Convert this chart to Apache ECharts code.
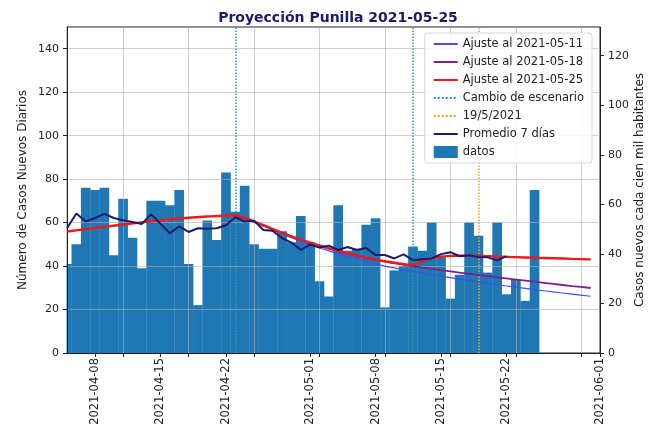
<!DOCTYPE html>
<html>
<head>
<meta charset="utf-8">
<script src="https://cdn.jsdelivr.net/npm/echarts@6/dist/echarts.min.js"></script>
<style>
  html, body { margin: 0; padding: 0; background: #fff; }
  #chart { width: 648px; height: 431px; }
</style>
</head>
<body>
<div id="chart"></div>
<script>
// rango del eje x
const fechaInicio = '2021-04-05';
const fechaFin = '2021-06-01';

// casos diarios, un valor por día desde fechaInicio
const casosDiarios = [
  41, 50, 76, 75, 76, 45, 71, 53, 39, 70,
  70, 68, 75, 41, 22, 61, 52, 83, 65, 77,
  50, 48, 48, 56, 51, 63, 51, 33, 26, 68,
  47, 48, 59, 62, 21, 38, 40, 49, 47, 60,
  44, 25, 36, 60, 54, 37, 60, 27, 34, 24,
  75
];

// promedio 7 días (centrado), un valor por día desde fechaInicio
const promedio7 = [
  57.4, 64.2, 60.5, 62.1, 64.0, 62.1, 61.1, 60.3, 59.4, 63.8,
  59.4, 55.1, 58.3, 55.7, 57.4, 57.2, 57.4, 58.8, 62.5, 60.5,
  60.9, 56.6, 56.2, 52.8, 50.8, 47.5, 49.9, 48.5, 49.4, 47.4,
  48.8, 47.4, 48.3, 45.1, 45.1, 43.5, 45.4, 42.7, 43.1, 43.5,
  45.5, 46.4, 44.5, 45.0, 44.2, 44.0, 42.6, 44.6
];

const ajusteFechas = [
  '2021-04-23', '2021-04-25', '2021-04-27', '2021-04-29', '2021-05-01',
  '2021-05-03', '2021-05-05', '2021-05-07', '2021-05-09', '2021-05-11',
  '2021-05-13', '2021-05-15', '2021-05-17', '2021-05-19', '2021-05-21',
  '2021-05-23', '2021-05-25', '2021-05-27', '2021-05-29', '2021-05-31'
];
const ajuste0511 = [
  63.4, 60.2, 56.6, 53.0, 49.8, 47.0, 44.4, 42.1, 40.0, 38.3,
  36.8, 35.4, 34.0, 32.7, 31.4, 30.3, 29.2, 28.1, 27.1, 26.1
];
const ajuste0518 = [
  63.4, 60.4, 57.0, 53.6, 50.6, 48.0, 45.7, 43.7, 42.0, 40.6,
  39.3, 38.1, 37.0, 35.9, 34.8, 33.8, 32.8, 31.8, 30.8, 29.9
];

const ajuste0525Fechas = [
  '2021-04-05', '2021-04-08', '2021-04-11', '2021-04-14', '2021-04-17',
  '2021-04-20', '2021-04-23', '2021-04-25', '2021-04-27', '2021-04-29',
  '2021-05-01', '2021-05-03', '2021-05-05', '2021-05-07', '2021-05-09',
  '2021-05-11', '2021-05-12', '2021-05-13', '2021-05-14', '2021-05-15',
  '2021-05-17', '2021-05-19', '2021-05-21', '2021-05-23', '2021-05-25',
  '2021-05-27', '2021-05-29', '2021-05-31'
];
const ajuste0525 = [
  55.9, 57.5, 59.1, 60.6, 61.9, 62.8, 63.4, 60.6, 57.0, 53.7,
  50.8, 48.2, 45.9, 43.9, 42.2, 40.9, 40.6, 42.2, 43.6, 44.3,
  44.8, 44.7, 44.4, 44.1, 43.8, 43.6, 43.3, 43.1
];

const cambiosEscenario = ['2021-04-23', '2021-05-12'];
const fechaMarca = ['2021-05-19'];

const fechasEtiquetas = [
  '2021-04-08', '2021-04-15', '2021-04-22', '2021-05-01',
  '2021-05-08', '2021-05-15', '2021-05-22', '2021-06-01'
];
const fechasGrilla = [
  '2021-04-11', '2021-04-18', '2021-04-25', '2021-05-02',
  '2021-05-09', '2021-05-16', '2021-05-23', '2021-05-30'
];
const ticksCasos = [0, 20, 40, 60, 80, 100, 120, 140];
const ticksTasa = [0, 20, 40, 60, 80, 100, 120];

const poblacion = 114000;
const casosMax = 150;

const t0 = Date.parse(fechaInicio + 'T00:00:00Z');
const dia = (s) => Math.round((Date.parse(s + 'T00:00:00Z') - t0) / 864e5);
const fecha = (d) => new Date(t0 + Math.round(d) * 864e5).toISOString().slice(0, 10);

const W = 648, H = 431;
const GRID = { left: 67, right: 48, top: 27, bottom: 78 };
const nDias = dia(fechaFin);
const anchoBarra = (W - GRID.left - GRID.right) / nDias + 0.3;

const font = 'DejaVu Sans';
const ink = '#222';
const gridColor = 'rgba(176,176,176,0.6)';

const chart = echarts.init(document.getElementById('chart'), null, { renderer: 'canvas' });

const lineaAjuste = (name, fechas, valores, color, width, z) => ({
  name,
  type: 'line',
  data: fechas.map((f, i) => [dia(f), valores[i]]),
  symbol: 'none',
  smooth: 0.25,
  lineStyle: { color, width },
  itemStyle: { color, opacity: 0 },
  z
});

const lineaVertical = (name, fechas, color) => ({
  name,
  type: 'line',
  data: [],
  symbol: 'none',
  lineStyle: { color, width: 1.5, type: 'dotted' },
  itemStyle: { color, opacity: 0 },
  z: 5,
  markLine: {
    silent: true,
    symbol: 'none',
    label: { show: false },
    lineStyle: { color, width: 1.5, type: 'dotted' },
    data: fechas.map((f) => ({ xAxis: dia(f) }))
  }
});

const ejeY = (extra) => ({
  type: 'value',
  min: 0,
  z: 4,
  nameLocation: 'middle',
  nameRotate: 90,
  nameMoveOverlap: false,
  nameTextStyle: { fontSize: 12, color: ink, fontFamily: font },
  axisLine: { show: true, onZero: false, lineStyle: { color: ink } },
  ...extra
});

const option = {
  animation: false,
  backgroundColor: '#fff',
  textStyle: { fontFamily: font },
  title: {
    text: 'Proyección Punilla 2021-05-25',
    left: 333,
    top: 6,
    textAlign: 'center',
    textStyle: { fontSize: 14, fontWeight: 'bold', color: '#1b1b6b', fontFamily: font }
  },
  legend: {
    orient: 'vertical',
    right: 56,
    top: 33,
    itemWidth: 24,
    itemHeight: 12,
    itemGap: 6,
    padding: [5, 8, 5, 8],
    backgroundColor: 'rgba(255,255,255,0.85)',
    borderColor: '#d6d6d6',
    borderWidth: 1,
    borderRadius: 3,
    z: 8,
    textStyle: { fontSize: 11.5, color: ink, fontFamily: font },
    data: [
      'Ajuste al 2021-05-11',
      'Ajuste al 2021-05-18',
      'Ajuste al 2021-05-25',
      'Cambio de escenario',
      '19/5/2021',
      'Promedio 7 días',
      { name: 'datos', icon: 'rect' }
    ]
  },
  // tapa la media barra del primer día que queda fuera del área
  graphic: [{
    type: 'rect',
    z: 3,
    silent: true,
    shape: { x: 0, y: GRID.top - 1, width: GRID.left - 0.5, height: H - GRID.top - GRID.bottom + 2 },
    style: { fill: '#fff' }
  }],
  grid: { ...GRID, show: true, borderColor: ink, borderWidth: 1, containLabel: false, outerBoundsMode: 'none' },
  xAxis: [
    {
      type: 'value',
      min: 0,
      max: nDias,
      containShape: false,
      z: 4,
      axisLine: { show: true, onZero: false, lineStyle: { color: ink } },
      splitLine: { show: false },
      axisTick: { customValues: fechasEtiquetas.map(dia), length: 4, lineStyle: { color: ink } },
      axisLabel: {
        customValues: fechasEtiquetas.map(dia),
        rotate: 90,
        margin: 5,
        fontSize: 11.5,
        color: ink,
        fontFamily: font,
        formatter: (v) => fecha(v)
      }
    },
    {
      type: 'value',
      min: 0,
      max: nDias,
      containShape: false,
      position: 'bottom',
      z: 4,
      axisLine: { show: false, onZero: false },
      axisLabel: { show: false },
      axisTick: { customValues: fechasGrilla.map(dia), length: 4, lineStyle: { color: ink } },
      splitLine: { show: true, lineStyle: { color: gridColor, width: 1 } }
    }
  ],
  yAxis: [
    ejeY({
      max: casosMax,
      position: 'left',
      name: 'Número de Casos Nuevos Diarios',
      nameGap: 38,
      axisTick: { show: true, customValues: ticksCasos, length: 4, lineStyle: { color: ink } },
      axisLabel: { customValues: ticksCasos, fontSize: 11, color: ink, fontFamily: font },
      splitLine: { show: true, lineStyle: { color: gridColor, width: 1 } }
    }),
    ejeY({
      max: casosMax * 1e5 / poblacion,
      position: 'right',
      name: 'Casos nuevos cada cien mil habitantes',
      nameGap: 34,
      axisTick: { show: true, customValues: ticksTasa, length: 4, lineStyle: { color: ink } },
      axisLabel: { customValues: ticksTasa, margin: 8, fontSize: 11, color: ink, fontFamily: font },
      splitLine: { show: false }
    })
  ],
  series: [
    {
      name: 'datos',
      type: 'bar',
      data: casosDiarios.map((v, i) => [i, v]),
      barWidth: anchoBarra,
      itemStyle: { color: '#1f77b4' },
      z: 2
    },
    lineaAjuste('Ajuste al 2021-05-11', ajusteFechas, ajuste0511, '#4050ee', 1.2, 5),
    lineaAjuste('Ajuste al 2021-05-18', ajusteFechas, ajuste0518, '#7d1f90', 1.8, 5),
    lineaAjuste('Ajuste al 2021-05-25', ajuste0525Fechas, ajuste0525, '#f01818', 2.4, 6),
    lineaVertical('Cambio de escenario', cambiosEscenario, '#2a9ea8'),
    lineaVertical('19/5/2021', fechaMarca, '#f5a02a'),
    {
      name: 'Promedio 7 días',
      type: 'line',
      data: promedio7.map((v, i) => [i, v]),
      symbol: 'none',
      lineStyle: { color: '#1c1a6b', width: 2 },
      itemStyle: { color: '#1c1a6b', opacity: 0 },
      z: 7
    }
  ]
};

chart.setOption(option);
</script>
</body>
</html>
